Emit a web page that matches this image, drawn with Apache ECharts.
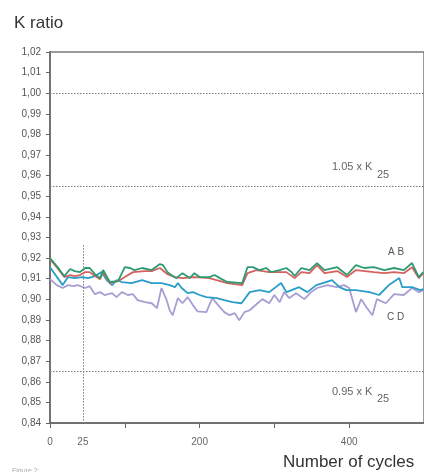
<!DOCTYPE html>
<html><head><meta charset="utf-8">
<script src="https://cdn.jsdelivr.net/npm/echarts@6/dist/echarts.min.js"></script>
<style>html,body{margin:0;padding:0;background:#fff}#c{width:424px;height:472px}</style>
</head><body><div id="c"></div>
<script>
// ---- data (cycles, K ratio) ----
const seriesA = [[0,0.9200],[9,0.9161],[19,0.9113],[27,0.9147],[33,0.9137],[40,0.9132],[47,0.9152],[53,0.9152],[60,0.9122],[67,0.9103],[71,0.9142],[80,0.9084],[91,0.9088],[100,0.9156],[107,0.9152],[113,0.9142],[123,0.9152],[136,0.9142],[147,0.9171],[151,0.9166],[157,0.9132],[164,0.9113],[169,0.9103],[177,0.9127],[187,0.9103],[193,0.9127],[200,0.9108],[213,0.9108],[220,0.9118],[227,0.9103],[237,0.9084],[257,0.9079],[264,0.9156],[271,0.9156],[280,0.9142],[289,0.9152],[296,0.9132],[307,0.9142],[316,0.9152],[323,0.9132],[327,0.9113],[336,0.9152],[347,0.9142],[357,0.9176],[367,0.9142],[384,0.9156],[397,0.9118],[409,0.9166],[420,0.9152],[433,0.9156],[447,0.9142],[460,0.9152],[473,0.9142],[484,0.9176],[493,0.9108],[499,0.9132]];
const seriesB = [[0,0.9195],[9,0.9156],[19,0.9108],[27,0.9118],[33,0.9113],[40,0.9118],[47,0.9132],[53,0.9132],[60,0.9113],[67,0.9098],[71,0.9132],[80,0.9079],[91,0.9088],[100,0.9108],[111,0.9132],[127,0.9137],[136,0.9137],[147,0.9152],[157,0.9122],[167,0.9108],[177,0.9103],[193,0.9108],[213,0.9103],[237,0.9079],[257,0.9069],[264,0.9127],[276,0.9142],[293,0.9132],[307,0.9132],[316,0.9132],[327,0.9103],[336,0.9132],[347,0.9127],[357,0.9166],[367,0.9127],[384,0.9137],[397,0.9108],[409,0.9142],[433,0.9132],[447,0.9127],[460,0.9132],[473,0.9127],[484,0.9156],[493,0.9103],[499,0.9127]];
const seriesC = [[0,0.9156],[17,0.9069],[24,0.9108],[33,0.9103],[43,0.9108],[51,0.9103],[60,0.9113],[69,0.9132],[76,0.9093],[83,0.9069],[89,0.9093],[96,0.9084],[109,0.9079],[123,0.9093],[136,0.9079],[149,0.9079],[160,0.9069],[167,0.9059],[171,0.9079],[176,0.9055],[184,0.9030],[191,0.9035],[200,0.9021],[209,0.9011],[223,0.9006],[233,0.8996],[244,0.8986],[256,0.8981],[267,0.9035],[280,0.9045],[293,0.9035],[309,0.9079],[316,0.9035],[323,0.9045],[333,0.9059],[344,0.9035],[356,0.9069],[369,0.9084],[377,0.9093],[387,0.9059],[396,0.9045],[409,0.9045],[427,0.9035],[440,0.9021],[453,0.9069],[467,0.9103],[471,0.9059],[484,0.9059],[495,0.9045],[499,0.9050]];
const seriesD = [[0,0.9098],[9,0.9069],[17,0.9055],[24,0.9069],[31,0.9064],[37,0.9069],[47,0.9055],[53,0.9064],[60,0.9025],[67,0.9035],[73,0.9021],[83,0.9030],[89,0.9011],[96,0.9035],[104,0.9021],[111,0.9025],[117,0.8996],[127,0.8986],[136,0.8981],[143,0.8957],[149,0.9055],[156,0.8996],[160,0.8947],[164,0.8923],[171,0.9006],[177,0.8981],[184,0.9011],[191,0.8972],[197,0.8942],[209,0.8938],[217,0.9006],[227,0.8962],[233,0.8938],[240,0.8923],[247,0.8933],[253,0.8898],[260,0.8938],[267,0.8947],[276,0.8976],[284,0.9001],[293,0.8981],[300,0.9021],[307,0.8986],[313,0.9035],[320,0.9006],[329,0.9030],[340,0.9001],[349,0.9035],[357,0.9055],[371,0.9069],[383,0.9059],[393,0.9069],[400,0.9055],[409,0.8938],[416,0.9001],[423,0.8962],[431,0.8923],[437,0.9001],[449,0.8981],[460,0.9025],[473,0.9021],[484,0.9055],[493,0.9035],[499,0.9045]];
const seriesColors = ['#2e9a72', '#d4625e', '#2a9dc8', '#a99dd4'];
const yTickFormat = v => v.toFixed(2).replace('.', ',');
const xTickValues = [0, 100, 200, 300, 400];
const xLabelValues = [0, 44, 200, 400];
const xLabelText = {0: '0', 44: '25', 200: '200', 400: '400'};
const refLevels = [1.00, 0.955, 0.865];
const refCycle = 44;

const font = '"Liberation Sans", Arial, sans-serif';
const chart = echarts.init(document.getElementById('c'), null, {renderer: 'canvas'});
const refLines = refLevels.map(v => ({yAxis: v}));
refLines.push([{coord: [refCycle, 0.9263]}, {coord: [refCycle, 0.84]}]);

const mk = (data, i) => ({
  type: 'line', data: data, showSymbol: false, symbol: 'none',
  lineStyle: {color: seriesColors[i], width: 1.8}, itemStyle: {color: seriesColors[i]}
});
const series = [mk(seriesA, 0), mk(seriesB, 1), mk(seriesC, 2), mk(seriesD, 3)];
series[3].z = 4; series[2].z = 5; series[1].z = 6; series[0].z = 7;
series[0].markLine = {
  silent: true, precision: 4, symbol: ['none', 'none'], label: {show: false},
  lineStyle: {color: '#7a7a7a', type: [1.5, 1.5], width: 1},
  data: refLines
};

const txt = (x, y, text, size, color, align) => ({
  type: 'text', x: x, y: y, silent: true,
  style: {text: text, fontSize: size, fontFamily: font, fill: color, align: align || 'left', verticalAlign: 'middle'}
});

chart.setOption({
  animation: false,
  grid: {left: 50, top: 52, width: 375, height: 371, show: true, borderColor: '#7a7a7a', borderWidth: 1.5},
  xAxis: {
    type: 'value', min: 0, max: 500,
    axisLine: {show: true, onZero: false, lineStyle: {color: '#666', width: 1.5}},
    axisTick: {show: true, customValues: xTickValues, length: 5, lineStyle: {color: '#666'}},
    axisLabel: {customValues: xLabelValues, formatter: v => xLabelText[v] !== undefined ? xLabelText[v] : '', color: '#666', fontSize: 10, margin: 14, fontFamily: font},
    splitLine: {show: false}
  },
  yAxis: {
    type: 'value', min: 0.84, max: 1.02, interval: 0.01,
    axisLine: {show: true, lineStyle: {color: '#666', width: 1.5}},
    axisTick: {show: true, length: 4, lineStyle: {color: '#666'}},
    axisLabel: {formatter: yTickFormat, color: '#555', fontSize: 10, margin: 9, fontFamily: font, padding: [0, 0, 5, 0]},
    splitLine: {show: false}
  },
  series: series,
  graphic: [
    txt(14, 23, 'K ratio', 17, '#333'),
    txt(283, 462, 'Number of cycles', 17, '#333'),
    txt(12, 471, 'Figure 2:', 7, '#aaa'),
    txt(332, 167, '1.05 x K', 11, '#666'),
    txt(377, 175, '25', 11, '#666'),
    txt(332, 392, '0.95 x K', 11, '#666'),
    txt(377, 399, '25', 11, '#666'),
    txt(388, 252, 'A B', 10, '#555'),
    txt(387, 317, 'C D', 10, '#555')
  ]
});
</script>
</body></html>
